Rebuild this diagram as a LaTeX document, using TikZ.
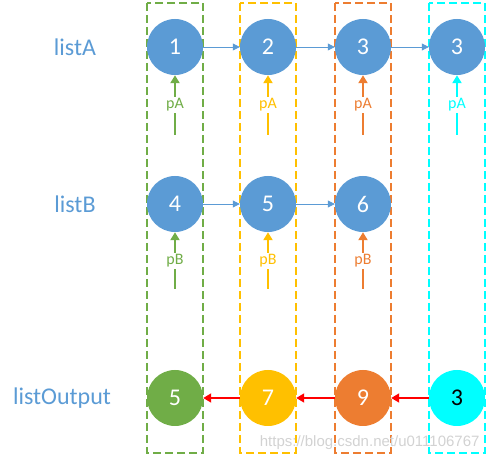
\documentclass[tikz,border=0pt]{standalone}
\usepackage{fontspec}
\setmainfont{Carlito}
\newfontfamily\markfont{Liberation Sans}
\usetikzlibrary{arrows.meta}
\definecolor{nodeblue}{HTML}{5B9BD5}
\definecolor{colgreen}{HTML}{70AD47}
\definecolor{colyellow}{HTML}{FFC000}
\definecolor{colorange}{HTML}{ED7D31}
\definecolor{colcyan}{HTML}{00FFFF}
\tikzset{
  listnode/.style={circle,minimum size=56pt,inner sep=0pt,fill=nodeblue,text=white,font=\fontsize{24}{24}\selectfont},
  listname/.style={text=nodeblue,font=\fontsize{24}{24}\selectfont},
  colbox/.style={draw,dash pattern=on 8pt off 4pt,line width=1.4pt},
  ptr/.style={-{Triangle[length=8pt,width=9pt]},line width=2pt},
  ptrlabel/.style={fill=white,inner sep=1.5pt,font=\fontsize{16}{16}\selectfont},
  nextlink/.style={-{Triangle[length=7pt,width=7pt]},draw=nodeblue,line width=0.8pt},
  outlink/.style={-{Triangle[length=8pt,width=9pt]},draw=red,line width=1.8pt}
}
\begin{document}
\begin{tikzpicture}[x=1pt,y=-1pt]%
\useasboundingbox (0,0) rectangle (491,462);%
\def\rowA{47};%
\def\rowB{204};%
\def\rowOut{398};%
%
\node[listname] (nameA) at (75,\rowA) {listA};%
\node[listname] (nameB) at (75,\rowB) {listB};%
\node[listname] (nameOut) at (62,\rowOut) {listOutput};%
%
\def\colx{175};%
\draw[colbox,colgreen] (\colx-28,3) rectangle (\colx+28,453);%
\node[listnode] (a1) at (\colx,\rowA) {1};%
\node[listnode] (b1) at (\colx,\rowB) {4};%
\node[listnode,fill=colgreen] (o1) at (\colx,\rowOut) {5};%
\coordinate (pa1) at (\colx,135);%
\coordinate (pb1) at (\colx,289);%
\draw[ptr,color=colgreen] (pa1) -- (a1.south) node[midway,ptrlabel] {pA};%
\draw[ptr,color=colgreen] (pb1) -- (b1.south) node[midway,ptrlabel] {pB};%
%
\def\colx{268};%
\draw[colbox,colyellow] (\colx-28,3) rectangle (\colx+28,453);%
\node[listnode] (a2) at (\colx,\rowA) {2};%
\node[listnode] (b2) at (\colx,\rowB) {5};%
\node[listnode,fill=colyellow] (o2) at (\colx,\rowOut) {7};%
\coordinate (pa2) at (\colx,135);%
\coordinate (pb2) at (\colx,289);%
\draw[ptr,color=colyellow] (pa2) -- (a2.south) node[midway,ptrlabel] {pA};%
\draw[ptr,color=colyellow] (pb2) -- (b2.south) node[midway,ptrlabel] {pB};%
%
\def\colx{363};%
\draw[colbox,colorange] (\colx-28,3) rectangle (\colx+28,453);%
\node[listnode] (a3) at (\colx,\rowA) {3};%
\node[listnode] (b3) at (\colx,\rowB) {6};%
\node[listnode,fill=colorange] (o3) at (\colx,\rowOut) {9};%
\coordinate (pa3) at (\colx,135);%
\coordinate (pb3) at (\colx,289);%
\draw[ptr,color=colorange] (pa3) -- (a3.south) node[midway,ptrlabel] {pA};%
\draw[ptr,color=colorange] (pb3) -- (b3.south) node[midway,ptrlabel] {pB};%
%
\def\colx{457};%
\draw[colbox,colcyan] (\colx-28,3) rectangle (\colx+28,453);%
\node[listnode] (a4) at (\colx,\rowA) {3};%
\node[listnode,fill=colcyan,text=black] (o4) at (\colx,\rowOut) {3};%
\coordinate (pa4) at (\colx,135);%
\draw[ptr,color=colcyan] (pa4) -- (a4.south) node[midway,ptrlabel] {pA};%
%
\draw[nextlink] (a1) -- (a2);%
\draw[nextlink] (a2) -- (a3);%
\draw[nextlink] (a3) -- (a4);%
\draw[nextlink] (b1) -- (b2);%
\draw[nextlink] (b2) -- (b3);%
%
\draw[outlink] (o4) -- (o3);%
\draw[outlink] (o3) -- (o2);%
\draw[outlink] (o2) -- (o1);%
%
\node[text=gray!35,font=\markfont\fontsize{15}{15}\selectfont,anchor=east] (mark) at (483,443) {https://blog.csdn.net/u011106767};%
\end{tikzpicture}
\end{document}
